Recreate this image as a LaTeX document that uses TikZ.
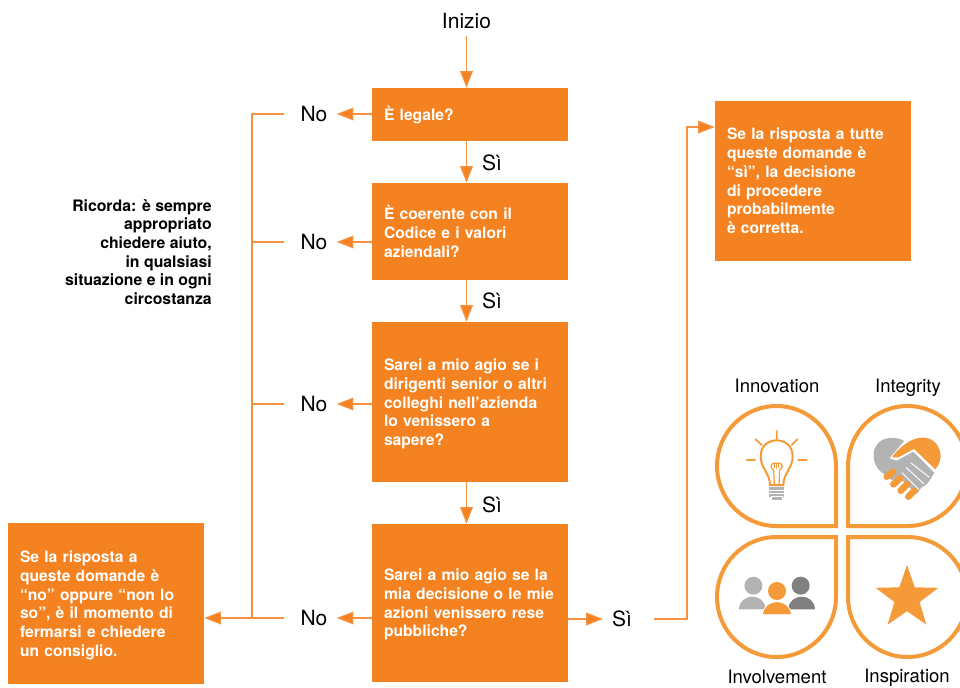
\documentclass[tikz,border=0pt]{standalone}
\usepackage{fontspec}
\setmainfont{TeX Gyre Heros}
\usetikzlibrary{arrows.meta,shapes.geometric}
\definecolor{boxorange}{HTML}{F58220}
\definecolor{lineorange}{HTML}{F6913F}
\definecolor{petalorange}{HTML}{F59A38}
\definecolor{lightgray}{HTML}{B3B3B3}
\definecolor{midgray}{HTML}{808080}
\newcommand{\petal}[3]{\draw [petal,shift={(#1)},xscale=#2,yscale=#3] (59.5,60) -- (59.5,0) .. controls (59.5,-33) and (33,-60) .. (0,-60) .. controls (-33,-60) and (-59.5,-33) .. (-59.5,0) .. controls (-59.5,33) and (-33,60) .. (0,60) -- cycle;}
\begin{document}
\begin{tikzpicture}[x=0.75pt,y=-0.75pt,
    box/.style={fill=boxorange,text=white,font=\fontsize{11.75}{14.05}\selectfont\bfseries,align=left,text width=129pt,inner xsep=9pt,inner ysep=0pt,minimum width=147pt},
    lower/.style={execute at begin node=\rule{0pt}{#1}},
    label/.style={font=\fontsize{15.75}{18}\selectfont,inner xsep=6.75pt,inner ysep=2pt},
    brand/.style={font=\fontsize{13.9}{16}\selectfont,inner sep=0pt,anchor=base},
    line/.style={draw=lineorange,line width=1pt},
    arrow/.style={line,-{Triangle[length=12.5pt,width=9.5pt,fill=boxorange]}},
    petal/.style={draw=petalorange,line width=3pt},
    iconline/.style={draw=petalorange,line width=1.3pt,line cap=round},
    icon/.style={shift={(#1)},x=0.25pt,y=-0.25pt}]
    \useasboundingbox (0,0) rectangle (960,687);
    % flow column
    \node [label] (inizio) at (466.5,21) {Inizio};
    \node [box,minimum height=39.75pt] (legale) at (470,114.5) {È legale?};
    \node [box,minimum height=72.75pt] (codice) at (470,231.5) {È coerente con il\\Codice e i valori\\aziendali?};
    \node [box,lower=11.6pt,minimum height=120pt] (dirigenti) at (470,402) {Sarei a mio agio se i\\dirigenti senior o altri\\colleghi nell’azienda\\lo venissero a\\sapere?};
    \node [box,lower=11pt,minimum height=118.5pt] (pubbliche) at (470,603) {Sarei a mio agio se la\\mia decisione o le mie\\azioni venissero rese\\pubbliche?};
    \node [box,lower=11.6pt,minimum height=120.75pt] (fermarsi) at (106,603.5) {Se la risposta a\\queste domande è\\“no” oppure “non lo\\so”, è il momento di\\fermarsi e chiedere\\un consiglio.};
    \node [box,minimum height=120pt] (corretta) at (813,181) {Se la risposta a tutte\\queste domande è\\“sì”, la decisione\\di procedere\\probabilmente\\è corretta.};
    % labels
    \node [label] (no1) at (314,114) {No};
    \node [label] (no2) at (314,242) {No};
    \node [label] (no3) at (314,404) {No};
    \node [label] (no4) at (314,618) {No};
    \node [label] (si1) at (492,163) {Sì};
    \node [label] (si2) at (492,301) {Sì};
    \node [label] (si3) at (492,505) {Sì};
    \node [label] (si4) at (622,619) {Sì};
    \node [font=\fontsize{11.85}{14}\selectfont\bfseries,align=right,inner sep=0pt,anchor=east] (ricorda) at (212,252) {Ricorda: è sempre\\appropriato\\chiedere aiuto,\\in qualsiasi\\situazione e in ogni\\circostanza};
    % connectors
    \coordinate (bustop) at (252,114);
    \coordinate (busbottom) at (252,618);
    \coordinate (bend) at (687,127);
    \draw [arrow] (inizio) ++(0,15) -- (inizio |- legale.north);
    \draw [arrow] (inizio |- legale.south) -- (inizio |- codice.north);
    \draw [arrow] (inizio |- codice.south) -- (inizio |- dirigenti.north);
    \draw [arrow] (inizio |- dirigenti.south) -- (inizio |- pubbliche.north);
    \draw [arrow] (legale.west |- no1) -- (no1.east);
    \draw [arrow] (codice.west |- no2) -- (no2.east);
    \draw [arrow] (dirigenti.west |- no3) -- (no3.east);
    \draw [arrow] (pubbliche.west |- no4) -- (no4.east);
    \draw [arrow] (pubbliche.east |- si4) -- (si4.west);
    \draw [line] ([xshift=-5.25pt]no1.west) -- (bustop) -- (busbottom);
    \draw [line] ([xshift=-5.25pt]no2.west) -- (bustop |- no2);
    \draw [line] ([xshift=-5.25pt]no3.west) -- (bustop |- no3);
    \draw [arrow] ([xshift=-5.25pt]no4.west) -- (fermarsi.east |- no4);
    \draw [arrow] ([xshift=9.75pt]si4.east) -| (bend) -- (bend -| corretta.west);
    % petals
    \petal{776.5,466}{1}{1}
    \petal{907.5,466}{-1}{1}
    \petal{776.5,597}{1}{-1}
    \petal{907.5,597}{-1}{-1}
    \node [brand] (innovation) at (777,392) {Innovation};
    \node [brand] (integrity) at (908,392) {Integrity};
    \node [brand] (involvement) at (777,683) {Involvement};
    \node [brand] (inspiration) at (907,682) {Inspiration};
    % bulb
    \begin{scope}[icon={740,425}]
        \fill [lightgray] (88,185) rectangle (132,215);
        \fill [lightgray] (95,215) rectangle (125,226);
        \draw [white,line width=0.4pt] (88,195) -- (132,195) (88,205) -- (132,205) (92,215) -- (128,215);
        \draw [iconline,line width=1.5pt,fill=white] (90,180) .. controls (90,145) and (62,130) .. (62,94) .. controls (62,62) and (85,46) .. (110,46) .. controls (135,46) and (158,62) .. (158,94) .. controls (158,130) and (130,145) .. (130,180) -- cycle;
        \draw [iconline,line width=0.9pt] (103,180) -- (101,135) .. controls (90,130) and (92,115) .. (100,115) -- (120,115) .. controls (128,115) and (130,130) .. (119,135) -- (117,180);
        \draw [iconline,line width=0.6pt] (104,115) -- (104,128) (110,115) -- (110,130) (116,115) -- (116,128);
        \draw [iconline] (110,18) -- (110,42) (20,105) -- (45,105) (175,105) -- (200,105) (47,43) -- (65,60) (172,43) -- (155,60);
    \end{scope}
    % handshake
    \begin{scope}[icon={700,370}]
        \fill [lightgray] (612,213) .. controls (590,198) and (545,200) .. (530,225) .. controls (512,250) and (522,285) .. (540,303) -- (575,330) -- (600,325) -- (650,372) -- (665,352) -- (678,345) -- (690,330) -- (703,308) -- (640,245) -- (590,272) -- (568,265) -- cycle;
        \fill [petalorange] (576,262) .. controls (590,240) and (610,225) .. (630,213) .. controls (670,192) and (705,205) .. (717,235) .. controls (728,262) and (718,285) .. (706,298) -- (642,237) -- (595,262) -- cycle;
        \draw [white,line width=0.7pt] (632,278) -- (688,322) (618,292) -- (672,342) (606,308) -- (656,358);
        \draw [petalorange,line width=5pt,line cap=round] (560,320) -- (580,305) (580,343) -- (600,325) (602,362) -- (622,342) (625,380) -- (643,362);
    \end{scope}
    % people
    \begin{scope}[icon={700,370}]
        \fill [lightgray] (160,647) circle [radius=27];
        \fill [lightgray] (117,718) .. controls (118,692) and (138,680) .. (157,680) .. controls (176,680) and (196,692) .. (197,718) -- cycle;
        \fill [midgray] (302,647) circle [radius=27];
        \fill [midgray] (265,718) .. controls (266,692) and (286,680) .. (305,680) .. controls (324,680) and (344,692) .. (345,718) -- cycle;
        \fill [petalorange] (231,663) circle [radius=27];
        \draw [white,line width=0.6pt,fill=petalorange] (188,734) .. controls (189,708) and (210,695) .. (231,695) .. controls (252,695) and (273,708) .. (274,734) -- cycle;
    \end{scope}
    % star
    \node [star,star points=5,star point ratio=2.5,fill=petalorange,inner sep=0pt,minimum size=49.5pt] (stella) at (907,598) {};
\end{tikzpicture}
\end{document}
